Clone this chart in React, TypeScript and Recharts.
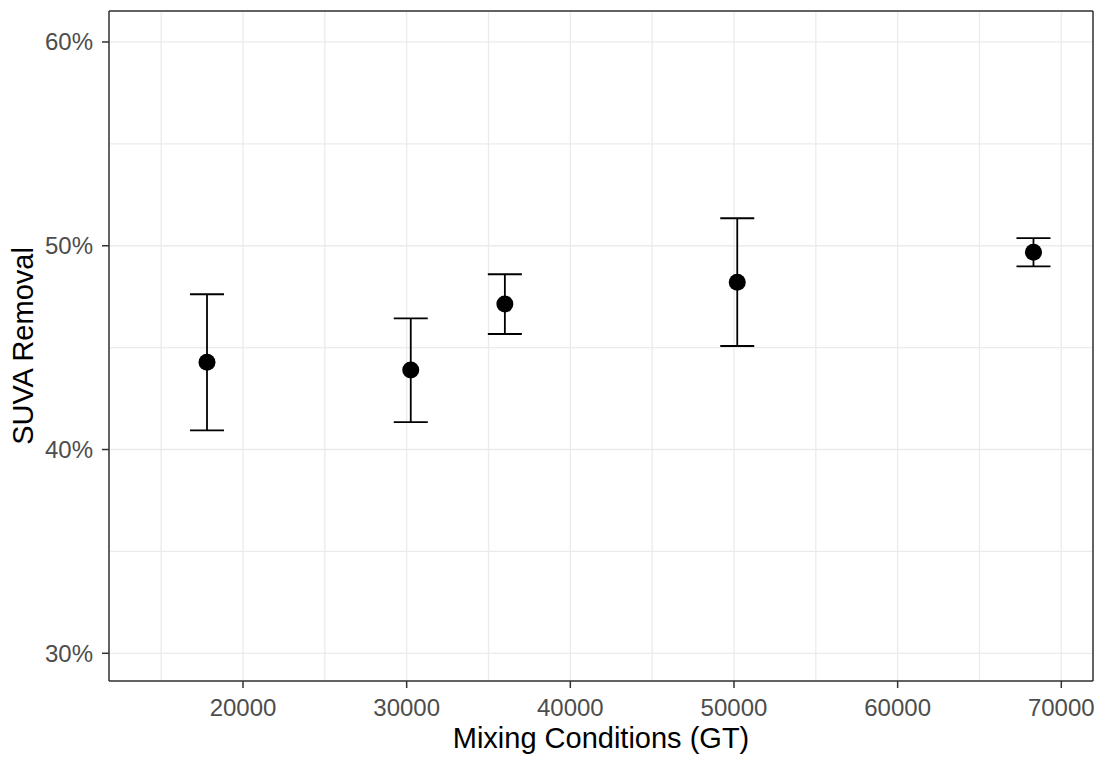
import { ScatterChart, Scatter, XAxis, YAxis, CartesianGrid, ErrorBar, Label } from "recharts"

const FONT = "'Liberation Sans', Arial, sans-serif"

// mixing conditions (GT) and SUVA removal (%) with error bar bounds
const gt = [17800, 30250, 36000, 50200, 68300]
const removal = [44.28, 43.9, 47.14, 48.21, 49.68]
const lower = [40.94, 41.34, 45.67, 45.08, 48.99]
const upper = [47.62, 46.44, 48.6, 51.35, 50.37]

const xTicks = [20000, 30000, 40000, 50000, 60000, 70000]
const xGridTicks = [15000, 20000, 25000, 30000, 35000, 40000, 45000, 50000, 55000, 60000, 65000, 70000]
const yTicks = [30, 40, 50, 60]
const yGridTicks = [30, 35, 40, 45, 50, 55, 60]
const xDomain = [11812, 71937]
const yDomain = [28.64, 61.52]

const data = gt.map((x, i) => ({
  gt: x,
  removal: removal[i],
  err: [removal[i] - lower[i], upper[i] - removal[i]],
}))

const XTitle = (props: any) => {
  const { x, y, width, height } = props.viewBox
  return (
    <text x={x + width / 2} y={y + height - 10} textAnchor="middle" fontSize={29} fill="#000" fontFamily={FONT}>
      Mixing Conditions (GT)
    </text>
  )
}

const YTitle = (props: any) => {
  const { x, y, height } = props.viewBox
  const cx = x + 33
  const cy = y + height / 2
  return (
    <text
      x={cx}
      y={cy}
      transform={`rotate(-90 ${cx} ${cy})`}
      textAnchor="middle"
      fontSize={29}
      fill="#000"
      fontFamily={FONT}
    >
      SUVA Removal
    </text>
  )
}

const Dot = (props: any) => <circle cx={props.cx} cy={props.cy} r={8.5} fill="#000" />

const tickStyle = { fill: "#4D4D4D", fontSize: 24, fontFamily: FONT }
const lineStyle = { stroke: "#333333", strokeWidth: 1.5 }

export default function App() {
  return (
    <div style={{ position: "absolute", left: 0, top: 0, background: "#fff" }}>
      <ScatterChart width={1097} height={758} margin={{ top: 10, right: 3, bottom: 0, left: 0 }}>
        <CartesianGrid xAxisId="grid" yAxisId="grid" stroke="#EBEBEB" strokeWidth={1.3} />
        {/* top and right axes: grid lines + panel border */}
        <XAxis
          xAxisId="grid"
          orientation="top"
          type="number"
          dataKey="gt"
          domain={xDomain}
          allowDataOverflow
          ticks={xGridTicks}
          interval={0}
          height={1}
          tickFormatter={() => ""}
          tickLine={false}
          axisLine={lineStyle}
        />
        <YAxis
          yAxisId="grid"
          orientation="right"
          type="number"
          dataKey="removal"
          domain={yDomain}
          allowDataOverflow
          ticks={yGridTicks}
          interval={0}
          width={1}
          tickFormatter={() => ""}
          tickLine={false}
          axisLine={lineStyle}
        />
        <XAxis
          type="number"
          dataKey="gt"
          domain={xDomain}
          allowDataOverflow
          ticks={xTicks}
          interval={0}
          height={77}
          tickSize={7}
          tickMargin={11}
          tick={tickStyle}
          tickLine={lineStyle}
          axisLine={lineStyle}
        >
          <Label content={XTitle} />
        </XAxis>
        <YAxis
          type="number"
          dataKey="removal"
          domain={yDomain}
          allowDataOverflow
          ticks={yTicks}
          interval={0}
          tickFormatter={(v: number) => `${v}%`}
          width={109}
          tickSize={7}
          tickMargin={9}
          tick={tickStyle}
          tickLine={lineStyle}
          axisLine={lineStyle}
        >
          <Label content={YTitle} />
        </YAxis>
        <Scatter data={data} dataKey="removal" fill="#000" shape={Dot} isAnimationActive={false}>
          <ErrorBar dataKey="err" direction="y" width={17} stroke="#000" strokeWidth={1.8} isAnimationActive={false} />
        </Scatter>
      </ScatterChart>
    </div>
  )
}
